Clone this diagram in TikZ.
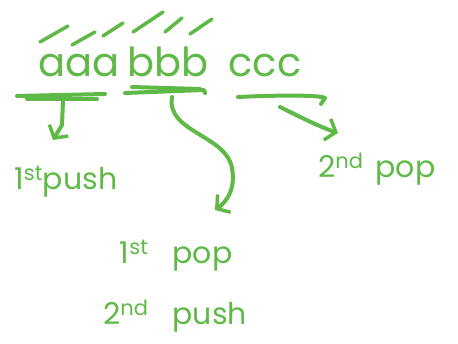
\documentclass[tikz,border=0pt]{standalone}
\usepackage{fontspec}
\setmainfont{Poppins}
\usetikzlibrary{arrows.meta}
\definecolor{pen}{RGB}{95,185,70}
\tikzset{
  ink/.style={draw=pen, line width=4pt, line cap=round, line join=round},
  inkthin/.style={draw=pen, line width=3.5pt, line cap=round, line join=round},
  big/.style={text=pen, inner sep=0pt, font=\fontsize{40}{48}\selectfont},
  lbl/.style={text=pen, inner sep=0pt, font=\fontsize{30}{36}\selectfont},
  tip/.style={-{Straight Barb[length=9pt,width=22pt,line width=3.5pt]}},
}
\begin{document}
\begin{tikzpicture}[x=1pt,y=-1pt]
\useasboundingbox (0,0) rectangle (458,344);
% letters
\node[big, anchor=base] (a) at (79,77) {aaa};
\node[big, anchor=base] (b) at (168,77) {bbb};
\node[big, anchor=base] (c) at (265,77) {ccc};
% slashes over a's and b's
\draw[inkthin] (40,42) -- (68,26);
\draw[inkthin] (72,45) -- (95,32);
\draw[inkthin] (103,36) -- (123,23);
\draw[inkthin] (133,32) -- (163,12);
\draw[inkthin] (165,32) -- (182,18);
\draw[inkthin] (190,34) -- (212,19);
% underlines
\coordinate (ua1) at (17,96);
\coordinate (ua2) at (105,94);
\coordinate (ua3) at (27,99);
\coordinate (ua4) at (97,99);
\draw[ink] (ua1) -- (ua2);
\draw[ink] (ua3) -- (ua4);
\coordinate (ub1) at (125,93);
\coordinate (ub2) at (204,90);
\draw[ink] (132,87) -- (200,89);
\draw[ink] (ub1) -- (ub2) -- (205,93);
\coordinate (uc1) at (238,97);
\coordinate (uc2) at (325,98);
\draw[ink] (uc1) .. controls (280,95) and (320,95) .. (uc2) -- (321,104);
% labels
\node[lbl, anchor=base west] (push1) at (14,190) {1\textsuperscript{st}push};
\node[lbl, anchor=base west] (pop2) at (318,178) {2\textsuperscript{nd}\hspace{12pt}pop};
\node[lbl, anchor=base] (mid) at (175,325) {\begin{tabular}[b]{@{}r@{\hspace{24pt}}l@{}}1\textsuperscript{st} & pop\\[25pt] 2\textsuperscript{nd} & push\end{tabular}};
% arrows
\coordinate (sa) at (63,100);
\coordinate (ta) at (53,140);
\draw[ink, tip] (sa) -- (62,125) -- (ta);
\coordinate (sb) at (172,97);
\coordinate (tb) at (215,210);
\draw[ink, tip] (sb) .. controls (166,132) and (226,135) .. (232,168) .. controls (236,190) and (226,202) .. (tb);
\coordinate (sc) at (280,107);
\coordinate (tc) at (338,133);
\draw[ink, tip] (sc) .. controls (300,117) and (320,127) .. (tc);
\end{tikzpicture}
\end{document}
